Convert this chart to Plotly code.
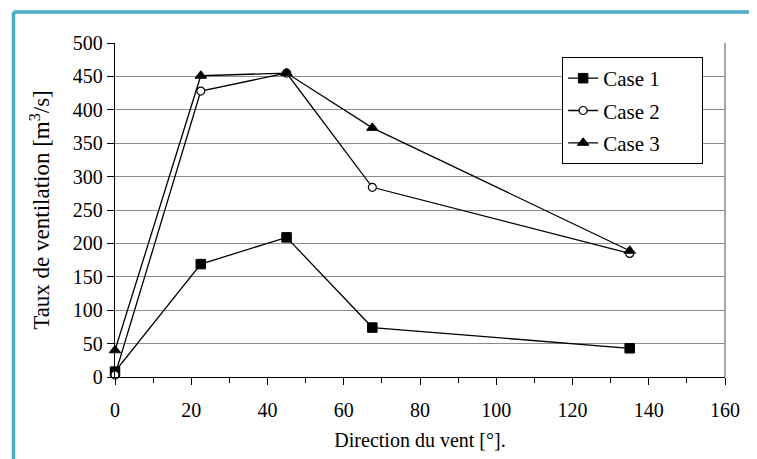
import plotly.graph_objects as go

directions = [0, 22.5, 45, 67.5, 135]
case1 = [8, 169, 209, 74, 43]
case2 = [3, 428, 455, 284, 185]
case3 = [40, 451, 455, 373, 189]
series_names = ["Case 1", "Case 2", "Case 3"]
x_ticks = [0, 20, 40, 60, 80, 100, 120, 140, 160]
y_ticks = [0, 50, 100, 150, 200, 250, 300, 350, 400, 450, 500]

FONT = 'Liberation Serif, "Times New Roman", Times, serif'
PAD = "\u00a0" * 7

fig = go.Figure()
styles = [
    dict(symbol="square", size=9.5, color="black", line=dict(color="black", width=1)),
    dict(symbol="circle", size=8, color="white", line=dict(color="black", width=1.2)),
    dict(symbol="triangle-up", size=10, color="black", line=dict(color="black", width=1)),
]
for i, (name, ys) in enumerate(zip(series_names, [case1, case2, case3])):
    fig.add_trace(go.Scatter(
        x=directions, y=ys, mode="lines+markers", name=name + PAD,
        legendgroup=f"g{i}",
        line=dict(color="black", width=1.3),
        marker=styles[i],
        cliponaxis=False,
    ))

shapes = [
    dict(type="line", xref="paper", yref="paper", x0=1, x1=1, y0=0, y1=1,
         line=dict(color="#8c8c8c", width=1.5)),
    dict(type="line", xref="paper", yref="paper", x0=-0.1664, x1=-0.1664, y0=-0.26, y1=1.0928,
         line=dict(color="#4bacc6", width=3.5)),
    dict(type="line", xref="paper", yref="paper", x0=-0.1664, x1=1.06, y0=1.0928, y1=1.0928,
         line=dict(color="#4bacc6", width=3.5)),
]

fig.update_layout(
    width=757, height=459,
    margin=dict(l=107, r=40, t=35, b=90, autoexpand=False),
    paper_bgcolor="white", plot_bgcolor="white",
    font=dict(family=FONT, size=20, color="black"),
    showlegend=True,
    legend=dict(
        x=0.733, y=0.958, xanchor="left", yanchor="top",
        bordercolor="black", borderwidth=1, bgcolor="white",
        font=dict(family=FONT, size=21),
        traceorder="grouped", tracegroupgap=2,
    ),
    shapes=shapes,
    xaxis=dict(
        range=[0, 160], tickvals=x_ticks, ticktext=[str(v) for v in x_ticks],
        showgrid=False, zeroline=False,
        showline=True, linecolor="black", linewidth=1.3,
        ticks="outside", ticklen=7, tickcolor="black", tickwidth=1.3,
        ticklabelstandoff=8,
        minor=dict(dtick=10, tick0=0, ticks="outside", ticklen=5, tickcolor="black", tickwidth=1),
        tickfont=dict(family=FONT, size=20),
        title=dict(text="Direction du vent [°].", font=dict(family=FONT, size=20), standoff=12),
    ),
    yaxis=dict(
        range=[0, 500], tickvals=y_ticks, ticktext=[str(v) for v in y_ticks],
        showgrid=True, gridcolor="#8c8c8c", gridwidth=1.3,
        zeroline=False,
        showline=True, linecolor="black", linewidth=1.3,
        ticks="outside", ticklen=7, tickcolor="black", tickwidth=1.3,
        tickfont=dict(family=FONT, size=20),
        title=dict(text="Taux de ventilation [m<sup>3</sup>/s]", font=dict(family=FONT, size=23), standoff=16),
    ),
)

fig.write_html("out.html")
